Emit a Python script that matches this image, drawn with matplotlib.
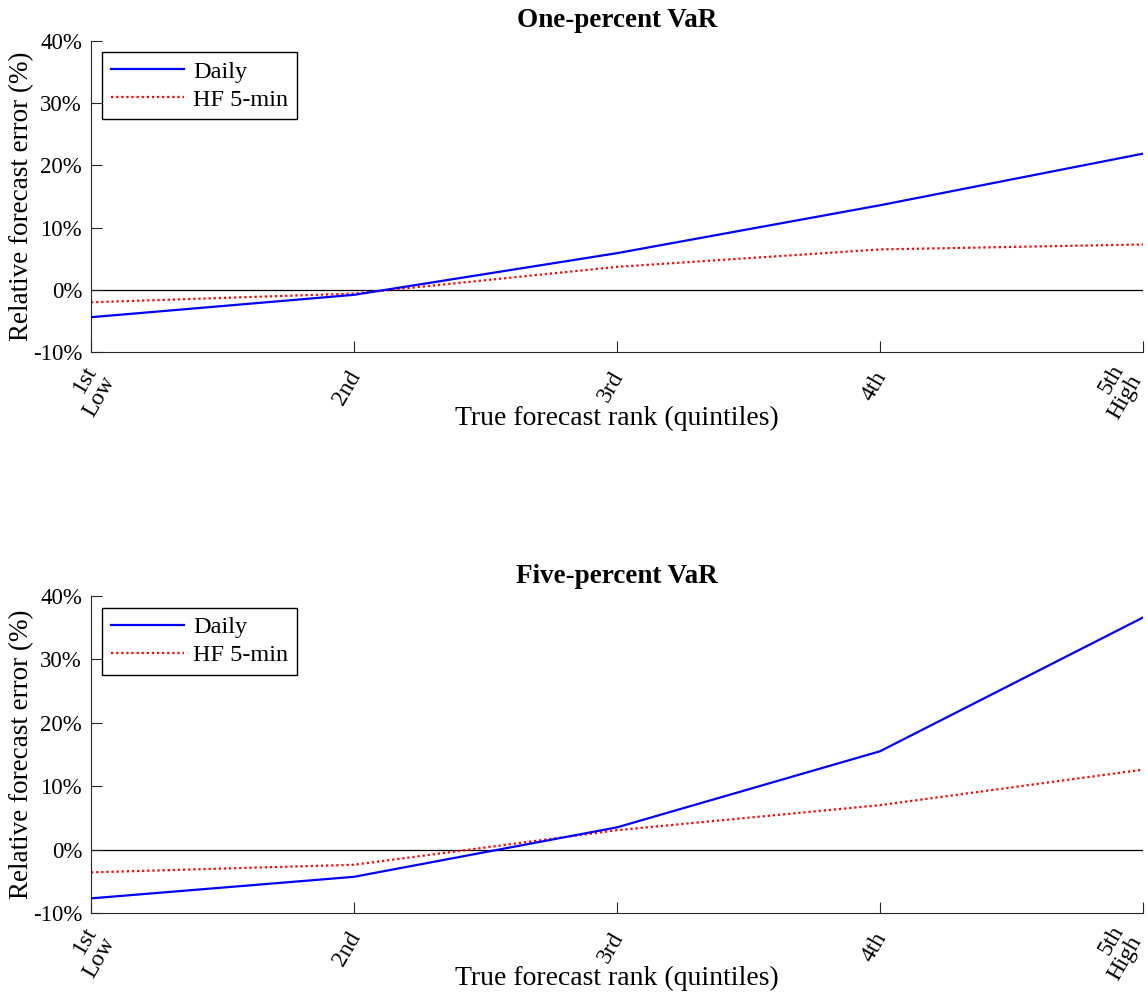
import matplotlib
matplotlib.use("Agg")
import matplotlib.pyplot as plt
from matplotlib.transforms import ScaledTranslation

# values (relative forecast error, %)
quintile_labels = ["1st\nLow", "2nd", "3rd", "4th", "5th\nHigh"]
ytick_values = [-10, 0, 10, 20, 30, 40]
ytick_labels = ["-10%", "0%", "10%", "20%", "30%", "40%"]

one_pct_daily = [-4.4, -0.8, 5.9, 13.6, 21.9]
one_pct_hf = [-2.0, -0.6, 3.7, 6.5, 7.3]

five_pct_daily = [-7.7, -4.3, 3.5, 15.5, 36.6]
five_pct_hf = [-3.6, -2.4, 3.05, 7.0, 12.6]

plt.rcParams['font.family'] = ['Liberation Serif', 'DejaVu Serif']
plt.rcParams['font.size'] = 16.5

fig = plt.figure(figsize=(11.48, 9.97), dpi=100)

# title, series, [left, bottom, width, height], xlabel y, legend top, title pad
panels = [
    ("One-percent VaR", one_pct_daily, one_pct_hf, [0.0793, 0.6469, 0.9164, 0.3119], -0.212, 0.9646, 10),
    ("Five-percent VaR", five_pct_daily, five_pct_hf, [0.0793, 0.0843, 0.9164, 0.3180], -0.208, 0.9630, 9),
]

x = list(range(1, len(quintile_labels) + 1))

for title, daily, hf, rect, xlab_y, leg_top, tpad in panels:
    ax = fig.add_axes(rect)

    ax.axhline(0, color='black', linewidth=0.9, zorder=1)
    ax.plot(x, daily, color='blue', linewidth=1.6, label='Daily', zorder=3)
    ax.plot(x, hf, color='red', linewidth=1.6, linestyle=(0, (1, 1.3)), label='HF 5-min', zorder=2)

    ax.set_xlim(1, 5)
    ax.set_ylim(-10, 40)

    # only left and bottom axis lines, ticks pointing inward
    ax.spines['top'].set_visible(False)
    ax.spines['right'].set_visible(False)
    ax.spines['left'].set_color('#262626')
    ax.spines['bottom'].set_color('#262626')
    ax.tick_params(direction='in', length=8, width=0.8, color='#262626')
    ax.tick_params(axis='y', pad=6.5)
    ax.tick_params(axis='x', pad=14)

    ax.set_yticks(ytick_values)
    ax.set_yticklabels(ytick_labels)
    ax.set_xticks(x)
    ax.set_xticklabels(quintile_labels, rotation=60, ha='right', va='center_baseline',
                       rotation_mode='anchor', linespacing=1.0, fontsize=17)

    # two-line labels: nudge first one right, last one left (stays inside the figure)
    first = ax.get_xticklabels()[0]
    first.set_transform(first.get_transform() + ScaledTranslation(0.08, 0, fig.dpi_scale_trans))
    last = ax.get_xticklabels()[-1]
    last.set_va('center')
    last.set_transform(last.get_transform() + ScaledTranslation(-0.15, 0, fig.dpi_scale_trans))

    ax.set_title(title, fontweight='bold', fontsize=19.5, pad=tpad)
    ax.set_xlabel("True forecast rank (quintiles)", fontsize=20)
    ax.xaxis.set_label_coords(0.5, xlab_y)
    ax.xaxis.label.set_va('center')
    ax.set_ylabel("Relative forecast error (%)", fontsize=19.5)
    ax.yaxis.set_label_coords(-0.0656, 0.5)
    ax.yaxis.label.set_va('center')

    leg = ax.legend(loc='upper left', bbox_to_anchor=(0.0105, leg_top), borderaxespad=0,
                    fancybox=False, framealpha=1, edgecolor='black',
                    handlelength=3.0, handletextpad=0.4, borderpad=0.35,
                    labelspacing=0.25, fontsize=17.5)
    leg.get_frame().set_linewidth(1.0)

fig.savefig("out.png", dpi=100)
